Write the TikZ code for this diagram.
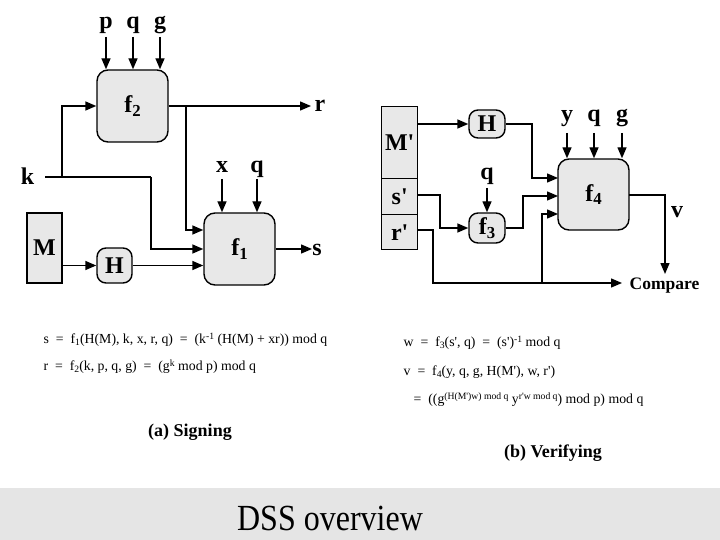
\documentclass[tikz,border=0pt]{standalone}
\usepackage{fontspec}
\setmainfont{Liberation Serif}
\usetikzlibrary{arrows.meta}
\newcommand{\sbs}[1]{\raisebox{-0.35ex}{\fontsize{0.7em}{1em}\selectfont #1}}
\newcommand{\sps}[1]{\raisebox{0.6ex}{\fontsize{0.7em}{1em}\selectfont #1}}
\newcommand{\ap}{\textquotesingle}
\begin{document}
\begin{tikzpicture}[x=1pt,y=-1pt,
  line width=1.4pt,
  >={Triangle[length=11pt,width=9pt]},
  fbox/.style={draw, fill=gray!18, rounded corners=11pt, inner sep=0pt},
  hbox/.style={draw, fill=gray!18, rounded corners=9pt, inner sep=0pt},
  mbox/.style={draw, fill=gray!18, inner sep=0pt},
  lab/.style={font=\bfseries\fontsize{24}{24}\selectfont, inner sep=0pt, anchor=base},
  boxlab/.style={font=\bfseries\fontsize{24}{24}\selectfont},
  eq/.style={font=\fontsize{13.8}{14}\selectfont, anchor=base west, inner sep=0pt},
  captxt/.style={font=\bfseries\fontsize{18}{18}\selectfont, inner sep=0pt}
]
\useasboundingbox (0,0) rectangle (720,540);
% bottom band
\fill[gray!20] (0,488) rectangle (720,540);
\node[font=\fontsize{32}{32}\selectfont, yscale=1.15] (title) at (330,518) {DSS overview};

% ---------- Signing ----------
\node[fbox, minimum width=71pt, minimum height=72pt, boxlab] (f2) at (132.5,106) {f\sbs{2}};
\node[fbox, minimum width=71pt, minimum height=72pt, boxlab] (f1) at (239.5,249) {f\sbs{1}};
\node[mbox, minimum width=35pt, minimum height=70pt, boxlab] (M) at (44.5,248) {M};
\node[hbox, minimum width=35pt, minimum height=35pt, boxlab] (H) at (114.5,265.5) {H};

\node[lab] (p) at (106,29) {p};
\node[lab] (q1) at (133,29) {q};
\node[lab] (g1) at (160,29) {g};
\node[lab] (r) at (320,112) {r};
\node[lab] (k) at (27.5,185) {k};
\node[lab] (x) at (222,173) {x};
\node[lab] (q2) at (257,173) {q};
\node[lab] (s) at (317,255) {s};

\coordinate (rend) at (311,106);
\coordinate (send) at (312,249);
\coordinate (kb) at (62,177);
\coordinate (rb) at (186,106);
\coordinate (kd) at (151,177);

\draw[->] ([yshift=-8pt]p.base) -- (p.base |- f2.north);
\draw[->] ([yshift=-8pt]q1.base) -- (q1.base |- f2.north);
\draw[->] ([yshift=-8pt]g1.base) -- (g1.base |- f2.north);
\draw[->] (f2.east) -- (rend);
\draw[->] (rb) |- ([yshift=19pt]f1.west);
\draw (45,177) -- (kd);
\draw[->] (kd) |- (f1.west);
\draw[->] (kb) |- (f2.west);
\draw[->] ([yshift=-6pt]x.base) -- (x.base |- f1.north);
\draw[->] ([yshift=-6pt]q2.base) -- (q2.base |- f1.north);
\draw[->] (f1.east) -- (send);
\draw[->] (M.east |- H.west) -- (H.west);
\draw[->] (H.east) -- (H.east -| f1.west);

% ---------- Verifying ----------
\node[mbox, minimum width=36pt, minimum height=72pt, boxlab, anchor=north west] (Mp) at (381,106) {M\ap};
\node[mbox, minimum width=36pt, minimum height=36pt, boxlab, anchor=north west] (sp) at (381,178) {s\ap};
\node[mbox, minimum width=36pt, minimum height=35pt, boxlab, anchor=north west] (rp) at (381,214) {r\ap};
\node[hbox, minimum width=36pt, minimum height=28pt, boxlab] (H2) at (487,124) {H};
\node[fbox, minimum width=71pt, minimum height=71pt, boxlab] (f4) at (593.5,194.5) {f\sbs{4}};
\node[hbox, minimum width=36pt, minimum height=30pt, boxlab] (f3) at (487,228) {f\sbs{3}};

\node[lab] (y) at (567,122) {y};
\node[lab] (q3) at (594,122) {q};
\node[lab] (g2) at (622,122) {g};
\node[lab] (q4) at (487,180) {q};
\node[lab] (v) at (677,218) {v};
\node[font=\bfseries\fontsize{17.5}{17.5}\selectfont, anchor=base west, inner sep=0pt] (cmp) at (629,289) {Compare};

\coordinate (cmpin) at (622,283);
\coordinate (cmptop) at (665,274);
\coordinate (vb) at (542,283);

\draw[->] (Mp.east |- H2.west) -- (H2.west);
\draw[->] (H2.east) -- (532,124) |- (558,178);
\draw[->] (417,195) -- (440,195) |- (f3.west);
\draw[->] ([yshift=-8pt]q4.base) -- (f3.north);
\draw[->] (f3.east) -- (523,228) |- (558,196);
\draw[->] (417,230) -- (433,230) |- (cmpin);
\draw[->] (vb) |- (558,214);
\draw[->] ([yshift=-11pt]y.base) -- (y.base |- f4.north);
\draw[->] ([yshift=-11pt]q3.base) -- (q3.base |- f4.north);
\draw[->] ([yshift=-11pt]g2.base) -- (g2.base |- f4.north);
\draw[->] (629,195) -- (665,195) -- (cmptop);

% ---------- Equations ----------
\node[eq] (e1) at (43,343) {s \ = \ f\sbs{1}(H(M), k, x, r, q) \ = \ (k\sps{-1} (H(M) + xr)) mod q};
\node[eq] (e2) at (43,370) {r \ = \ f\sbs{2}(k, p, q, g) \ = \ (g\sps{k} mod p) mod q};
\node[captxt] (ca) at (190,432) {(a) Signing};

\node[eq] (e3) at (403,346) {w \ = \ f\sbs{3}(s\ap, q) \ = \ (s\ap)\sps{-1} mod q};
\node[eq] (e4) at (403,375) {v \ = \ f\sbs{4}(y, q, g, H(M\ap), w, r\ap)};
\node[eq] (e5) at (413,403) {= \ ((g\sps{(H(M\ap)w) mod q} y\sps{r\ap w mod q}) mod p) mod q};
\node[captxt] (cb) at (553,453) {(b) Verifying};
\end{tikzpicture}
\end{document}
